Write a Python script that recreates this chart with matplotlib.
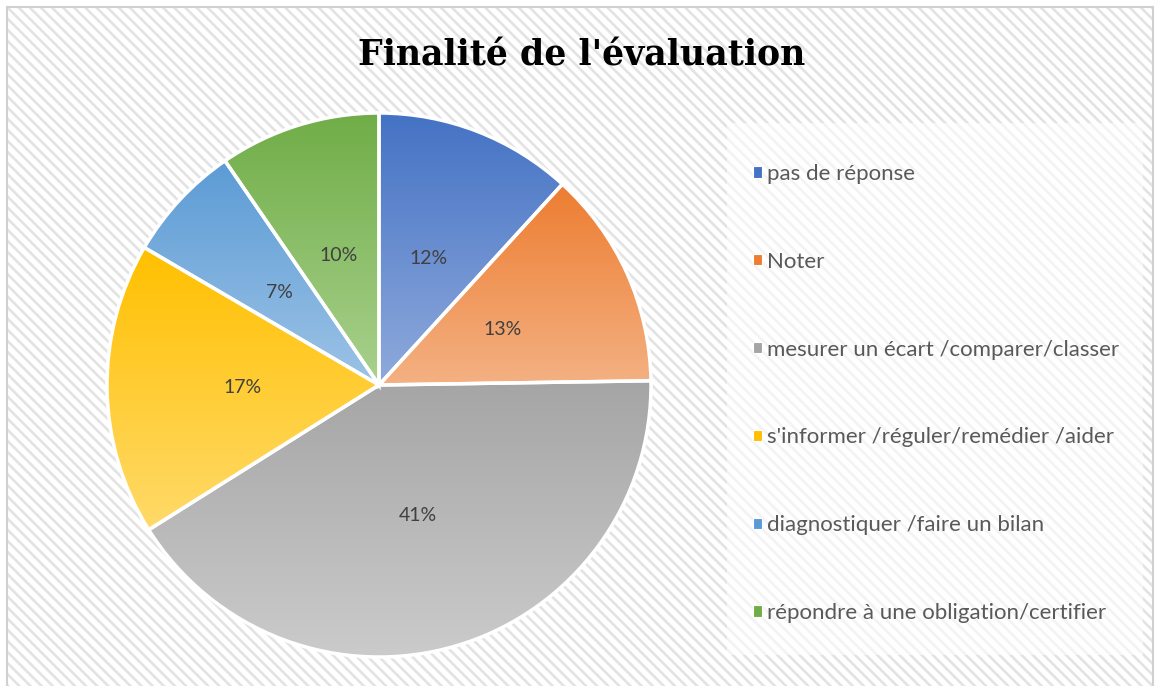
import matplotlib
matplotlib.use("Agg")
import matplotlib.pyplot as plt
import matplotlib.patches as mpatches
import numpy as np

title = "Finalité de l'évaluation"
labels = [
    "pas de réponse",
    "Noter",
    "mesurer un écart /comparer/classer",
    "s'informer /réguler/remédier /aider",
    "diagnostiquer /faire un bilan",
    "répondre à une obligation/certifier",
]
shares = [11.8, 13.0, 41.4, 17.4, 7.0, 9.6]
top_colors = ["#4472C4", "#ED7D31", "#A5A5A5", "#FFC000", "#5B9BD5", "#70AD47"]
bottom_colors = ["#8FAADC", "#F4B183", "#CBCBCB", "#FFDA6A", "#9DC3E6", "#A9D18E"]

W, H = 1157, 686
plt.rcParams["hatch.linewidth"] = 1.9

fig = plt.figure(figsize=(W / 100, H / 100), dpi=100)
fig.patch.set_facecolor("white")


def px(x, y):
    return x / W, 1 - y / H


# hatched chart area background + border
x0, y0 = px(7, 7)
x1, _ = px(1153, 0)
fig.patches.append(mpatches.Rectangle((x0, -0.01), x1 - x0, y0 + 0.01, transform=fig.transFigure,
                                      facecolor="white", edgecolor="#e3e3e3", linewidth=0,
                                      hatch="\\\\\\", zorder=0))
fig.patches.append(mpatches.Rectangle((x0, -0.01), x1 - x0, y0 + 0.01, transform=fig.transFigure,
                                      facecolor="none", edgecolor="#d0d0d0", linewidth=1.5, zorder=0.5))

# legend backdrop
lx0, ly1 = px(727, 123)
lx1, ly0 = px(1143, 655)
fig.patches.append(mpatches.Rectangle((lx0, ly0), lx1 - lx0, ly1 - ly0, transform=fig.transFigure,
                                      facecolor="white", alpha=0.6, edgecolor="none", zorder=0.6))

fig.text(582 / W, 1 - 55 / H, title, ha="center", va="center", fontsize=25,
         fontweight="bold", family="DejaVu Serif", color="black", zorder=3)

# pie
cx, cy, r = 379, 385, 272
ax = fig.add_axes([(cx - r) / W, (H - cy - r) / H, 2 * r / W, 2 * r / H])
ax.set_zorder(2)
wedges, texts, autotexts = ax.pie(
    shares, startangle=90, counterclock=False, autopct="%1.0f%%", pctdistance=0.5,
    wedgeprops=dict(edgecolor="white", linewidth=2.5),
    textprops=dict(color="#404040", fontsize=14, family="Lato"),
)

for w, c_top, c_bot in zip(wedges, top_colors, bottom_colors):
    ext = w.get_path().get_extents()
    t = np.array(matplotlib.colors.to_rgb(c_top))
    b = np.array(matplotlib.colors.to_rgb(c_bot))
    f = np.linspace(0, 1, 256)[:, None]
    grad = (t[None, :] * (1 - f) + b[None, :] * f)[:, None, :]
    im = ax.imshow(grad, extent=[ext.x0, ext.x1, ext.y0, ext.y1], origin="upper",
                   aspect="auto", zorder=1, interpolation="bilinear")
    im.set_clip_path(w)
    w.set_facecolor("none")
    w.set_zorder(2)
    w.set_clip_on(False)
for t in autotexts:
    t.set_zorder(3)

ax.set_xlim(-1, 1)
ax.set_ylim(-1, 1)
ax.set_aspect("equal")
ax.axis("off")

# legend
handles = [mpatches.Patch(facecolor=c, edgecolor="white", linewidth=0.8) for c in top_colors]
leg = fig.legend(handles, labels, loc="upper left", bbox_to_anchor=px(733, 144),
                 frameon=False, handlelength=0.4, handleheight=0.4, handletextpad=0.25,
                 labelspacing=3.05, prop=dict(family="Lato", size=16))
leg.set_zorder(3)
for txt in leg.get_texts():
    txt.set_color("#595959")

fig.savefig("out.png", dpi=100)
